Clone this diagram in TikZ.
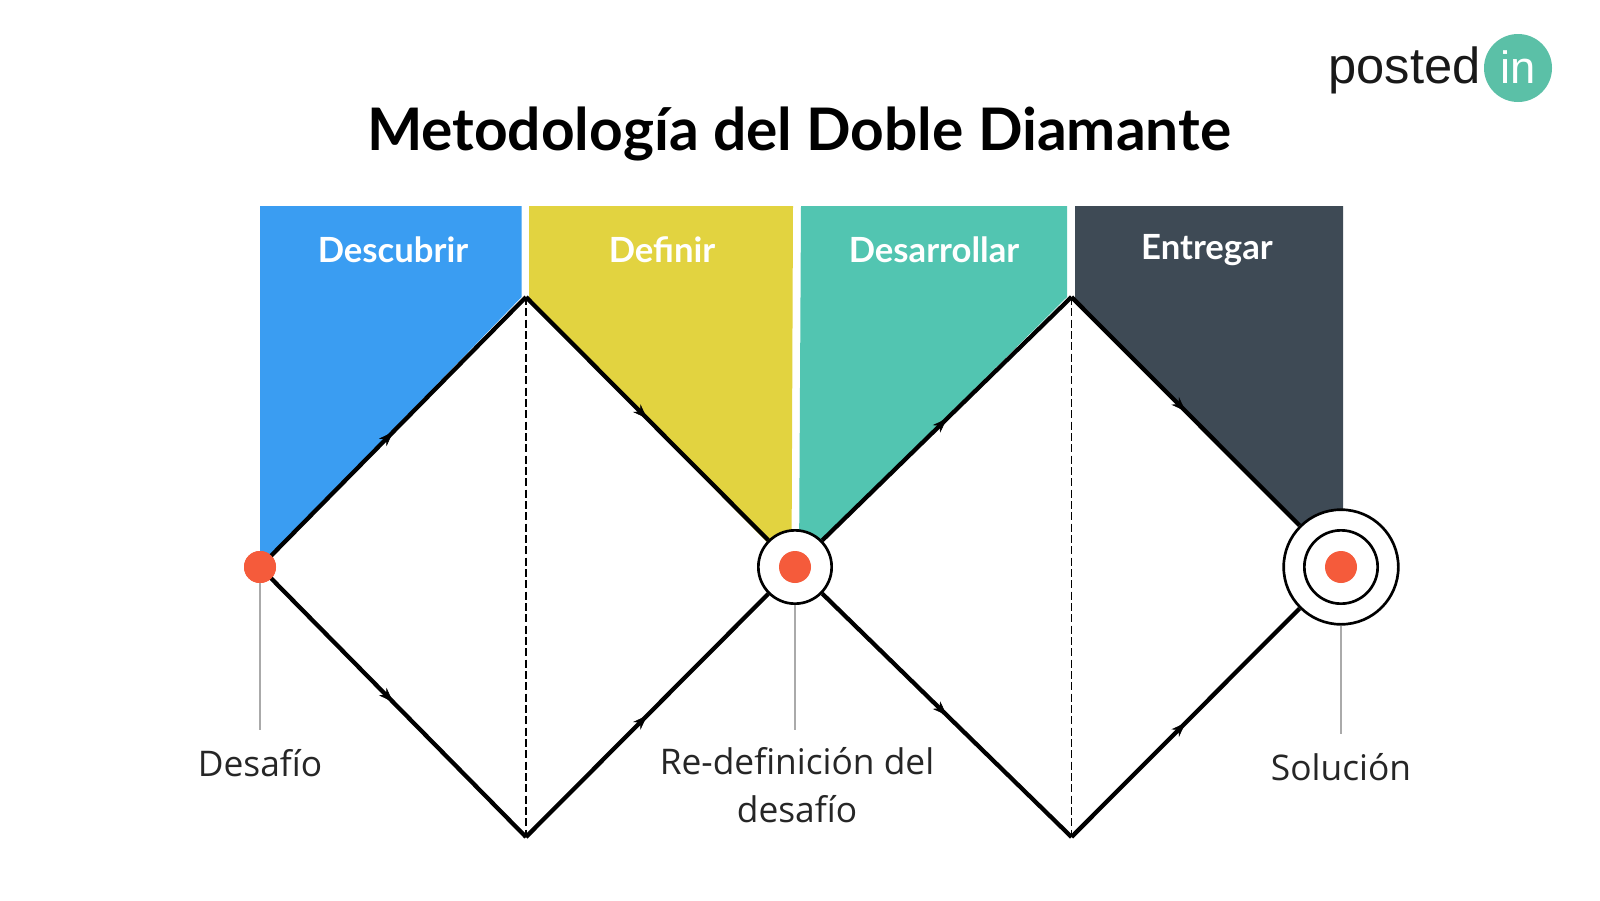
\documentclass[tikz,border=0pt]{standalone}
\usepackage{fontspec}
\setmainfont{Open Sans}
\newfontfamily\titlefont{Lato}
\newfontfamily\logofont{Liberation Sans}
\usetikzlibrary{arrows.meta,decorations.markings}
\definecolor{cblue}{HTML}{3A9DF2}
\definecolor{cyellow}{HTML}{E2D340}
\definecolor{cteal}{HTML}{52C5B1}
\definecolor{cdark}{HTML}{3E4A55}
\definecolor{cred}{HTML}{F55B3B}
\definecolor{cgrey}{HTML}{AAAAAA}
\definecolor{clogo}{HTML}{5BC0A7}
\tikzset{
  px/.style={x=0.75pt,y=-0.75pt},
  band/.style={draw=none},
  edgeline/.style={line width=3.2pt,black,line join=miter,
    postaction={decorate},
    decoration={markings,mark=at position 0.5 with {\arrow[line width=0.5pt]{Stealth[length=11pt,width=8pt]}}}},
  divider/.style={line width=1.1pt,black,dash pattern=on 6pt off 2.5pt},
  leader/.style={line width=1.2pt,cgrey},
  bandtext/.style={text=white,font=\titlefont\bfseries\fontsize{26}{30}\selectfont,anchor=center},
  caption/.style={font=\fontsize{26.5}{36}\selectfont,align=center,text=black!85},
  dotnode/.style={circle,fill=cred,minimum size=24pt,inner sep=0pt},
  ringnode/.style={circle,draw=black,fill=white,line width=2pt,inner sep=0pt},
}
\begin{document}
\begin{tikzpicture}[px]
\useasboundingbox[fill=white] (0,0) rectangle (1600,900);
% bands
\fill[cblue] (260,206) -- (521.5,206) -- (521.5,297) -- (260,567) -- cycle;
\fill[cyellow] (529,206) -- (793,206) -- (791.5,567) -- (525,297) -- (529,297) -- cycle;
\fill[cteal] (801,206) -- (1067,206) -- (1067,297) -- (795,567) -- (799,567) -- cycle;
\fill[cdark] (1075,206) -- (1343,206) -- (1343,567) -- (1071,297) -- (1075,297) -- cycle;
% coordinates
\coordinate (L) at (260,567);
\coordinate (A1) at (526,297);
\coordinate (B1) at (526,837);
\coordinate (A2) at (1071.5,297);
\coordinate (B2) at (1071.5,837);
% nodes
\node[dotnode] (start) at (L) {};
\node[ringnode,minimum size=55pt] (mid) at (795,567) {};
\node[dotnode] (midd) at (795,567) {};
\node[ringnode,minimum size=86pt] (endo) at (1341,567) {};
\node[ringnode,minimum size=55pt] (endi) at (1341,567) {};
\node[dotnode] (endd) at (1341,567) {};
% dividers
\draw[divider] (A1) -- (B1);
\draw[divider] (A2) -- (B2);
% edges
\draw[edgeline] (start.center) -- (A1);
\draw[edgeline] (A1) -- (mid);
\draw[edgeline] (start.center) -- (B1);
\draw[edgeline] (B1) -- (mid);
\draw[edgeline] (mid) -- (A2);
\draw[edgeline] (A2) -- (endo);
\draw[edgeline] (mid) -- (B2);
\draw[edgeline] (B2) -- (endo);
% redraw dots on top of the lines
\node[dotnode] at (L) {};
% leaders
\coordinate (c1) at (260,730);
\coordinate (c2) at (795,730);
\coordinate (c3) at (1341,734);
\draw[leader] (start) -- (c1);
\draw[leader] (mid) -- (c2);
\draw[leader] (endo) -- (c3);
% text
\node[font=\titlefont\bfseries\fontsize{44}{50}\selectfont] (title) at (799,134) {Metodología del Doble Diamante};
\node[bandtext] (t1) at (393,250) {Descubrir};
\node[bandtext] (t2) at (662,250) {Definir};
\node[bandtext] (t3) at (934,250) {Desarrollar};
\node[bandtext] (t4) at (1207,250) {Entregar};
\node[caption] (l1) at (260,763) {Desafío};
\node[caption] (l2) at (797,785) {Re-definición del\\desafío};
\node[caption] (l3) at (1341,767) {Solución};
% logo
\node[font=\logofont\fontsize{38}{40}\selectfont,text=black!90,anchor=base east,inner sep=0pt] (lg) at (1481,83) {posted};
\node[circle,fill=clogo,minimum size=51pt,inner sep=0pt] (lc) at (1518,68) {};
\draw[white,line width=1pt] (lc.center) circle (29pt);
\node[font=\logofont\fontsize{34}{36}\selectfont,text=white] (li) at (1518,67) {in};
\end{tikzpicture}
\end{document}
